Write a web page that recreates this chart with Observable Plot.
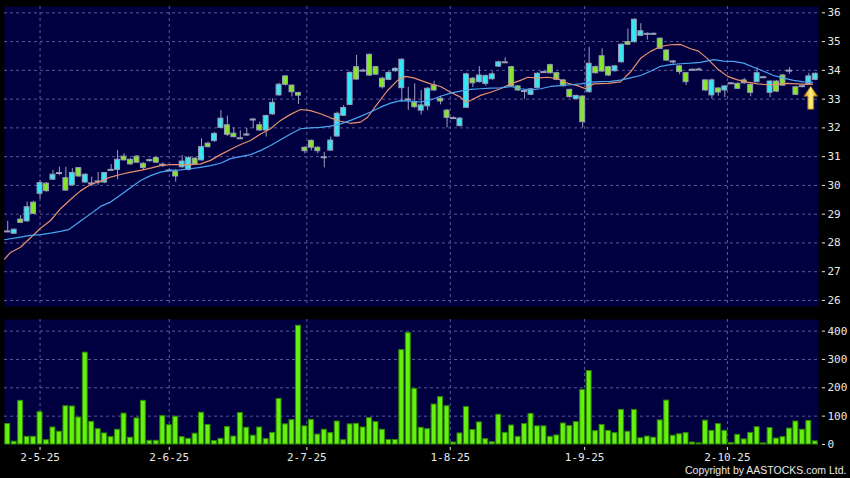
<!DOCTYPE html>
<html><head><meta charset="utf-8">
<script src="https://cdn.jsdelivr.net/npm/d3@7"></script>
<script src="https://cdn.jsdelivr.net/npm/@observablehq/plot@0.6"></script>
<style>
html,body{margin:0;padding:0;background:#000;}
#chart{width:850px;height:478px;background:#000;overflow:hidden;}
#chart svg{display:block;}
</style></head><body><div id="chart"></div>
<script>
// ---- data ----
const opens = [28.40,28.32,28.81,28.75,29.40,29.71,30.06,30.20,30.43,30.25,
 30.00,30.60,30.10,30.07,30.14,30.10,30.54,30.54,31.00,30.89,
 31.00,30.75,30.88,30.95,30.72,30.52,30.48,30.63,30.54,30.93,
 30.87,31.45,31.54,32.00,32.09,31.80,31.64,31.77,32.29,32.09,
 31.91,32.47,33.13,33.79,33.47,33.21,31.31,31.55,31.31,30.98,
 31.21,31.70,32.42,32.80,34.11,33.99,34.54,34.11,33.71,33.67,
 33.97,33.38,32.99,32.88,32.60,32.75,33.47,33.01,32.60,32.34,
 32.06,32.70,33.71,33.59,33.53,33.69,34.13,34.28,34.11,33.44,
 33.28,33.15,33.39,33.94,34.18,33.90,33.65,33.32,33.00,33.09,
 33.24,34.11,34.49,34.11,33.97,34.28,34.98,34.98,35.20,35.27,
 35.27,35.10,34.69,34.31,34.14,33.90,34.02,34.03,33.65,33.13,
 33.37,33.30,33.55,33.53,33.65,33.50,33.59,33.76,33.22,33.61,
 33.82,33.99,33.41,33.45,33.53,33.67];
const highs = [28.75,28.48,28.95,29.42,29.45,30.17,30.10,30.52,30.63,30.63,
 30.58,30.62,30.40,30.29,30.45,30.45,30.73,31.21,31.10,30.93,
 31.04,30.79,30.92,30.99,30.78,30.56,30.55,31.04,31.00,30.97,
 31.62,31.50,31.84,32.60,32.41,32.00,31.90,31.98,32.33,32.20,
 32.45,33.01,33.55,33.82,33.50,33.24,31.34,31.58,31.34,31.15,
 31.68,32.55,32.78,33.95,34.52,34.05,34.57,34.14,33.76,33.96,
 34.10,34.40,33.41,33.53,33.30,33.40,33.62,33.10,32.64,32.38,
 32.36,33.90,33.75,34.13,33.84,33.95,34.32,34.44,34.14,33.47,
 33.32,33.37,33.92,33.98,34.22,33.93,33.68,33.35,33.14,33.12,
 34.80,34.15,34.75,34.14,34.17,34.92,35.44,35.79,35.62,35.30,
 35.30,35.13,34.72,34.34,34.17,33.93,34.05,34.08,33.68,33.70,
 33.40,33.47,33.58,33.56,33.72,33.53,34.10,33.79,33.64,33.64,
 33.86,34.09,33.44,33.50,33.90,33.91];
const lows = [28.36,28.30,28.68,28.72,28.98,29.52,29.76,30.18,30.34,29.80,
 29.98,30.28,30.08,29.96,30.00,30.06,30.50,30.20,30.85,30.71,
 30.77,30.52,30.80,30.77,30.62,30.48,30.11,30.60,30.50,30.70,
 30.84,31.30,31.50,31.97,31.70,31.65,31.60,31.70,31.97,31.88,
 31.68,32.44,33.10,33.45,33.07,32.81,31.10,31.20,31.10,30.61,
 31.18,31.67,32.40,32.77,33.65,33.95,33.79,33.82,33.35,33.64,
 33.94,32.89,32.60,32.68,32.45,32.60,33.27,32.80,32.00,32.30,
 32.03,32.67,33.40,33.56,33.45,33.66,34.10,34.25,33.41,33.27,
 32.99,33.12,33.36,33.90,33.87,33.64,33.42,33.04,32.97,32.00,
 33.21,33.87,33.93,33.79,33.94,34.25,34.86,34.95,35.17,35.05,
 35.24,34.72,34.31,34.18,33.85,33.47,33.99,34.00,33.27,33.00,
 33.10,33.05,33.52,33.33,33.52,33.08,33.56,33.73,33.05,33.23,
 33.44,33.87,33.12,33.40,33.50,33.64];
const closes = [28.40,28.46,28.70,29.24,29.01,30.08,29.80,30.37,30.43,29.82,
 30.43,30.31,30.37,30.07,30.14,30.43,30.54,30.89,30.87,30.73,
 30.79,30.61,30.88,30.79,30.72,30.52,30.31,30.83,30.95,30.73,
 31.33,31.33,31.79,32.32,31.76,31.68,31.64,31.77,32.29,31.91,
 32.41,32.87,33.50,33.50,33.24,33.12,31.19,31.31,31.19,30.98,
 31.56,32.49,32.69,33.91,33.68,33.99,33.82,33.85,33.41,33.91,
 34.05,34.37,32.99,32.72,32.78,33.36,33.30,32.92,32.35,32.34,
 32.32,33.86,33.55,33.82,33.80,33.86,34.28,34.28,33.44,33.30,
 33.28,33.34,33.88,33.94,33.90,33.67,33.45,33.07,33.11,32.20,
 34.23,33.90,33.96,33.82,34.14,34.89,34.89,35.76,35.36,35.27,
 35.27,34.75,34.34,34.31,33.94,33.59,34.02,34.03,33.30,33.65,
 33.23,33.44,33.55,33.36,33.55,33.22,33.90,33.76,33.61,33.26,
 33.47,33.99,33.15,33.45,33.79,33.88];
const volumes = [72,10,154,27,27,114,15,60,45,135,
 134,95,324,80,54,39,26,52,109,24,
 92,154,13,13,100,68,98,26,20,38,
 112,69,12,20,62,28,111,59,31,60,
 19,41,161,71,86,419,64,87,35,52,
 40,81,15,71,73,60,93,79,52,16,
 16,333,393,196,59,54,141,167,135,7,
 39,132,51,78,19,8,105,41,67,27,
 72,108,64,64,27,32,74,65,79,192,
 259,47,69,48,40,122,45,122,22,28,
 24,85,155,31,36,40,7,4,84,48,
 72,48,5,34,18,41,61,4,58,21,
 26,56,81,52,83,11];

// moving averages (bar index, value)
const maFastIdx = [-0.5,0.43,1.98,3.53,5.08,6.63,8.17,9.72,11.27,12.82,14.37,15.91,17.46,19.01,20.56,22.11,23.65,25.2,26.75,28.3,29.84,31.39,32.94,34.49,36.04,37.58,39.13,40.68,42.23,43.78,45.32,46.87,48.42,49.97,51.52,53.07,54.61,55.7,57.24,58.79,60.34,61.58,62.82,63.9,65.45,67.0,68.54,70.09,70.87,71.64,73.19,74.74,76.28,77.83,79.38,80.46,82.01,83.56,85.11,86.66,88.2,89.44,90.68,92.85,94.86,96.41,97.96,99.5,101.05,102.6,104.15,105.7,106.94,108.33,109.88,111.42,112.97,114.52,116.07,117.62,119.16,120.71,122.26,123.81,124.58];
const maFastVal = [27.44,27.67,27.85,28.18,28.51,28.78,29.19,29.51,29.81,30.03,30.14,30.29,30.38,30.46,30.52,30.60,30.69,30.72,30.72,30.72,30.75,30.87,31.07,31.25,31.42,31.56,31.79,31.97,32.26,32.47,32.64,32.60,32.49,32.35,32.23,32.16,32.20,32.37,32.84,33.30,33.65,33.79,33.74,33.65,33.53,33.44,33.24,33.07,32.89,32.95,33.13,33.24,33.36,33.53,33.65,33.76,33.73,33.76,33.71,33.55,33.47,33.36,33.53,33.55,33.60,33.95,34.42,34.66,34.83,34.89,34.90,34.75,34.67,34.40,34.05,33.79,33.67,33.59,33.53,33.50,33.51,33.55,33.53,33.51,33.52];
const maSlowIdx = [-0.5,1.98,3.53,5.08,6.63,8.17,9.41,11.27,12.82,14.37,15.91,17.46,19.01,20.56,22.11,23.65,25.2,26.75,28.3,29.84,31.39,32.94,34.49,36.04,37.58,39.13,40.68,42.23,43.78,45.32,46.87,48.42,49.97,51.52,53.07,54.61,56.16,57.71,59.26,60.8,62.35,63.9,65.45,67.0,68.54,70.09,71.64,73.19,74.74,76.28,77.83,79.38,80.93,82.48,84.02,85.57,87.12,88.67,90.22,91.76,93.31,94.86,96.41,97.96,99.5,101.05,102.6,104.15,105.7,107.24,109.26,110.8,112.35,113.9,115.45,117.0,118.55,120.09,121.64,123.19,124.58];
const maSlowVal = [28.11,28.20,28.26,28.29,28.34,28.40,28.46,28.76,29.01,29.27,29.42,29.67,29.92,30.17,30.34,30.46,30.52,30.54,30.58,30.63,30.69,30.77,30.93,31.00,31.07,31.21,31.39,31.59,31.79,31.97,32.00,32.02,32.06,32.14,32.26,32.40,32.55,32.72,32.86,32.95,32.93,32.90,32.97,33.10,33.21,33.28,33.34,33.36,33.38,33.39,33.44,33.36,33.32,33.36,33.44,33.47,33.50,33.53,33.59,33.61,33.62,33.66,33.74,33.82,33.97,34.14,34.20,34.23,34.25,34.28,34.37,34.32,34.31,34.25,34.11,33.97,33.82,33.73,33.65,33.60,33.58];

const tickIdx = [5, 25, 46.3, 68.5, 89.3, 111.4];
const tickLabels = ["2-5-25", "2-6-25", "2-7-25", "1-8-25", "1-9-25", "2-10-25"];
const priceTicks = [26, 27, 28, 29, 30, 31, 32, 33, 34, 35, 36];
const volTicks = [0, 100, 200, 300, 400];
const volGrid = [100, 200, 300, 400];
const arrowIdx = [124.3];
const arrowPrice = [33.05];
const copyright = "Copyright by AASTOCKS.com Ltd.";

// ---- styling ----
const NAVY = "#000040", GRID = "#5a5a98", WICK = "#9aa0b8", CYAN = "#36e6f4", GREEN = "#86e62c";
const TXT = "#e8e8e8";
const FONT = "DejaVu Sans Mono";
const W = 850, ML = 4, MR = 32;
const xDomain = [-0.5, 125.5];
const HALF = 0.38;

const bars = opens.map((o, i) => ({i, open: o, high: highs[i], low: lows[i], close: closes[i], vol: volumes[i]}));
const ups = bars.filter(d => d.close > d.open);
const downs = bars.filter(d => d.close < d.open);
const dojis = bars.filter(d => d.close === d.open);
const fastLine = maFastIdx.map((x, k) => ({x, y: maFastVal[k]}));
const slowLine = maSlowIdx.map((x, k) => ({x, y: maSlowVal[k]}));
const arrows = arrowIdx.map((x, k) => ({x, y: arrowPrice[k]}));

const arrowSymbol = {draw(ctx) {
  ctx.moveTo(0, -11.5); ctx.lineTo(6.8, -1.5); ctx.lineTo(3, -1.5); ctx.lineTo(3, 11.5);
  ctx.lineTo(-3, 11.5); ctx.lineTo(-3, -1.5); ctx.lineTo(-6.8, -1.5); ctx.closePath();
}};
const defs = () => {
  const d = d3.create("svg:defs");
  const g = d.append("linearGradient").attr("id", "arrowGrad").attr("x1", 0).attr("x2", 1).attr("y1", 0).attr("y2", 0);
  g.append("stop").attr("offset", 0).attr("stop-color", "#d89400");
  g.append("stop").attr("offset", 0.5).attr("stop-color", "#fff08a");
  g.append("stop").attr("offset", 1).attr("stop-color", "#d89400");
  return d.node();
};

const style = {background: "#000", color: TXT, fontFamily: FONT, fontSize: "11px"};
const gridOpts = {stroke: GRID, strokeDasharray: "3,3", strokeWidth: 1};

const price = Plot.plot({
  width: W, height: 310, marginLeft: ML, marginRight: MR, marginTop: 6, marginBottom: 4,
  style,
  x: {domain: xDomain, axis: null},
  y: {domain: [25.79, 36.22], axis: null},
  marks: [
    defs,
    Plot.frame({fill: NAVY, stroke: "none"}),
    Plot.ruleY(priceTicks, gridOpts),
    Plot.ruleX(tickIdx, gridOpts),
    Plot.ruleX(bars, {x: "i", y1: "low", y2: "high", stroke: WICK, strokeWidth: 1}),
    Plot.rect(ups, {x1: d => d.i - HALF, x2: d => d.i + HALF, y1: "open", y2: "close", fill: CYAN, stroke: WICK, strokeWidth: 1}),
    Plot.rect(downs, {x1: d => d.i - HALF, x2: d => d.i + HALF, y1: "open", y2: "close", fill: GREEN, stroke: WICK, strokeWidth: 1}),
    Plot.ruleY(dojis, {y: "close", x1: d => d.i - HALF - 0.1, x2: d => d.i + HALF + 0.1, stroke: WICK, strokeWidth: 2}),
    Plot.line(fastLine, {x: "x", y: "y", stroke: "#e8906c", strokeWidth: 1.2}),
    Plot.line(slowLine, {x: "x", y: "y", stroke: "#4aa6f2", strokeWidth: 1.2}),
    Plot.dot(arrows, {x: "x", y: "y", symbol: arrowSymbol, fill: "url(#arrowGrad)", stroke: "#9a6800", strokeWidth: 0.8}),
    Plot.axisY(priceTicks, {anchor: "right", label: null, tickSize: 3, tickPadding: 3, dx: 3, fontSize: 11, fontFamily: FONT})
  ]
});

const volume = Plot.plot({
  width: W, height: 168, marginLeft: ML, marginRight: MR, marginTop: 9, marginBottom: 34,
  style,
  x: {domain: xDomain, axis: null},
  y: {domain: [0, 441], axis: null},
  marks: [
    Plot.frame({fill: NAVY, stroke: "none"}),
    Plot.ruleY(volGrid, gridOpts),
    Plot.ruleX(tickIdx, gridOpts),
    Plot.rect(bars, {x1: d => d.i - HALF, x2: d => d.i + HALF, y1: 0, y2: "vol", fill: "#66f010", stroke: "#2f8a00", strokeWidth: 1}),
    Plot.axisY(volTicks, {anchor: "right", label: null, tickSize: 3, tickPadding: 3, dx: 3, fontSize: 11, fontFamily: FONT}),
    Plot.axisX(tickIdx, {anchor: "bottom", label: null, tickSize: 3, tickPadding: 3, dy: 3, fontSize: 11, fontFamily: FONT,
      tickFormat: d => tickLabels[tickIdx.indexOf(d)]}),
    Plot.text([copyright], {frameAnchor: "bottom-right", dx: 28, dy: 29, textAnchor: "end",
      fontFamily: "Liberation Sans", fontSize: 10.5, fill: TXT})
  ]
});

const root = document.getElementById("chart");
root.appendChild(price);
root.appendChild(volume);
</script>
</body></html>
